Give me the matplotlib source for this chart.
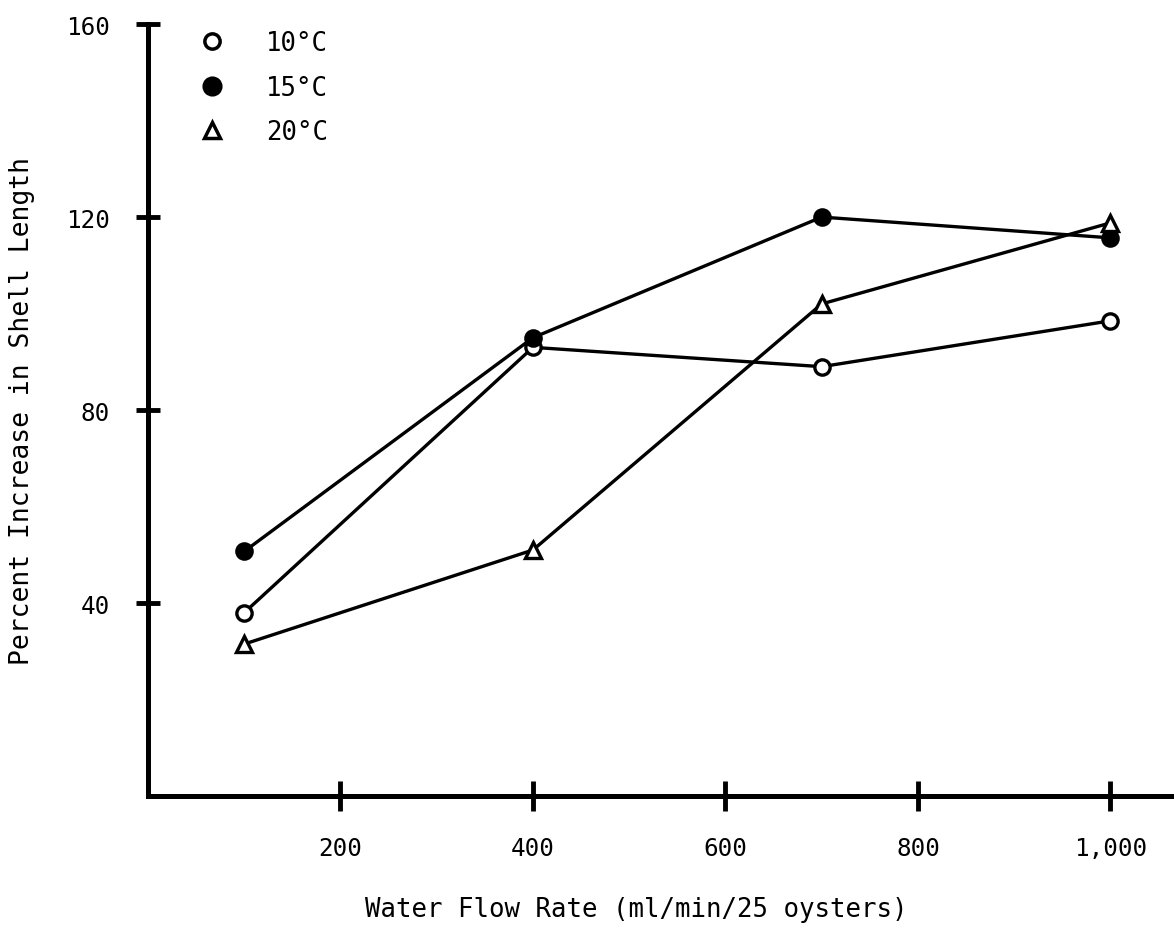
import matplotlib
matplotlib.use('Agg')
import matplotlib.pyplot as plt
from matplotlib.lines import Line2D

# data
flow = [100, 400, 700, 1000]
temp_10 = [38, 93, 89, 98.5]
temp_15 = [50.7, 95, 120, 115.7]
temp_20 = [31.5, 51, 102, 118.8]

x_ticks = [200, 400, 600, 800, 1000]
x_labels = ['200', '400', '600', '800', '1,000']
y_ticks = [40, 80, 120, 160]

plt.rcParams['font.family'] = ['DejaVu Sans Mono', 'DejaVu Sans']

fig = plt.figure(figsize=(11.74, 9.29), dpi=100)
ax = fig.add_axes([0.126, 0.142, 0.874, 0.831])

ax.plot(flow, temp_10, color='black', lw=2.4, marker='o', ms=11,
        mfc='white', mec='black', mew=2.4, zorder=3)
ax.plot(flow, temp_15, color='black', lw=2.4, marker='o', ms=11,
        mfc='black', mec='black', mew=2.4, zorder=3)
ax.plot(flow, temp_20, color='black', lw=2.4, marker='^', ms=12,
        mfc='white', mec='black', mew=2.4, zorder=3)

ax.set_xlim(0, 1066)
ax.set_ylim(0, 160)

for s in ['top', 'right']:
    ax.spines[s].set_visible(False)
for s in ['left', 'bottom']:
    ax.spines[s].set_linewidth(3.6)

ax.set_xticks(x_ticks)
ax.set_xticklabels(x_labels, fontsize=17.5)
ax.set_yticks(y_ticks)
ax.set_yticklabels([str(v) for v in y_ticks], fontsize=17.5)
ax.tick_params(axis='x', direction='inout', length=22, width=3.5, pad=18)
ax.tick_params(axis='y', direction='inout', length=17, width=3.5, pad=19)

ax.set_xlabel('Water Flow Rate (ml/min/25 oysters)', fontsize=18.5)
ax.xaxis.set_label_coords(0.476, -0.129)
ax.set_ylabel('Percent Increase in Shell Length', fontsize=19, labelpad=22)

handles = [
    Line2D([], [], ls='none', marker='o', ms=11, mfc='white', mec='black', mew=2.5),
    Line2D([], [], ls='none', marker='o', ms=12, mfc='black', mec='black', mew=2.5),
    Line2D([], [], ls='none', marker='^', ms=11, mfc='white', mec='black', mew=2.5),
]
ax.legend(handles, ['10°C', '15°C', '20°C'], loc='upper left',
          bbox_to_anchor=(0.015, 1.022), frameon=False, fontsize=18.5,
          handletextpad=1.1, labelspacing=0.72)

fig.savefig('out.png', dpi=100, facecolor='white')
